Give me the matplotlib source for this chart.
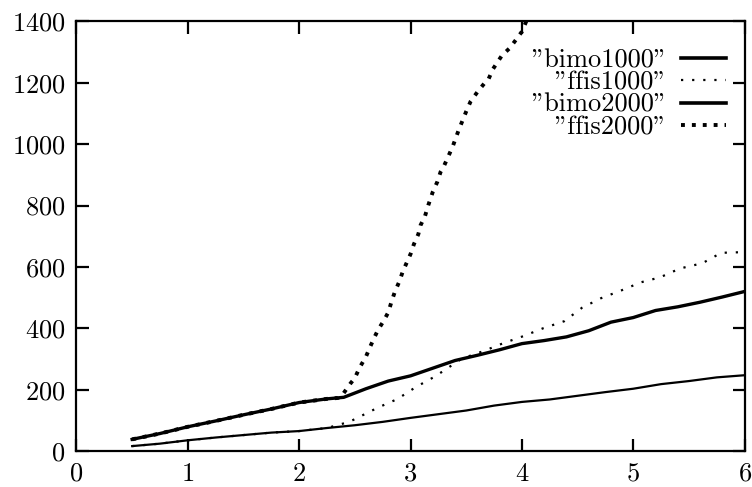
import matplotlib
matplotlib.use("Agg")
import matplotlib.pyplot as plt

plt.rcParams['font.family'] = 'cmr10'
plt.rcParams['axes.formatter.use_mathtext'] = True

# bimo1000 (lower solid line)
bimo1000_x = [0.5, 0.75, 1.0, 1.25, 1.5, 1.75, 2.0, 2.25, 2.5, 2.75, 3.0, 3.25,
              3.5, 3.75, 4.0, 4.25, 4.5, 4.75, 5.0, 5.25, 5.5, 5.75, 6.0]
bimo1000_y = [16, 24, 35, 44, 52, 60, 65, 75, 84, 95, 108, 120,
              132, 148, 160, 168, 180, 192, 203, 218, 228, 240, 247]

# bimo2000 (upper solid line)
bimo2000_x = [0.5, 0.75, 1.0, 1.25, 1.5, 1.75, 2.0, 2.25, 2.4, 2.6, 2.8, 3.0, 3.2,
              3.4, 3.6, 3.8, 4.0, 4.2, 4.4, 4.6, 4.8, 5.0, 5.2, 5.4, 5.6, 5.8, 6.0]
bimo2000_y = [38, 57, 79, 98, 118, 137, 158, 170, 175, 203, 228, 245, 270,
              295, 312, 330, 350, 360, 372, 392, 420, 435, 458, 470, 485, 502, 520]

# ffis1000: same as bimo1000 up to x=2.25, then diverges
ffis1000_x = [0.5, 0.75, 1.0, 1.25, 1.5, 1.75, 2.0, 2.25, 2.45, 2.71, 2.88, 3.05,
              3.22, 3.46, 3.65, 3.83, 4.01, 4.19, 4.38, 4.54, 4.71, 4.89, 5.07,
              5.24, 5.42, 5.62, 5.79, 5.97, 6.0]
ffis1000_y = [16, 24, 35, 44, 52, 60, 65, 75, 95, 142, 169, 209,
              243, 301, 325, 351, 374, 400, 423, 467, 498, 523, 550,
              566, 595, 612, 646, 648, 655]

# ffis2000: same as bimo2000 up to x=2.35, then shoots up
ffis2000_x = [0.5, 0.75, 1.0, 1.25, 1.5, 1.75, 2.0, 2.25, 2.35, 2.40, 2.46, 2.50,
              2.54, 2.60, 2.64, 2.68, 2.71, 2.76, 2.80, 2.83, 2.86, 2.90, 2.93,
              3.00, 3.03, 3.07, 3.09, 3.13, 3.16, 3.20, 3.24, 3.27, 3.30, 3.34,
              3.38, 3.43, 3.50, 3.54, 3.60, 3.66, 3.70, 3.74, 3.82, 3.89, 3.95,
              4.00, 4.05]
ffis2000_y = [38, 57, 79, 98, 118, 137, 158, 170, 173, 189, 220, 238,
              270, 308, 342, 374, 396, 425, 452, 488, 520, 553, 585,
              642, 674, 707, 736, 766, 802, 845, 877, 910, 929, 961,
              994, 1044, 1107, 1140, 1170, 1197, 1212, 1245, 1289, 1313, 1342,
              1367, 1410]

x_ticks = [0, 1, 2, 3, 4, 5, 6]
y_ticks = [0, 200, 400, 600, 800, 1000, 1200, 1400]

fig = plt.figure(figsize=(7.52, 4.87), dpi=100)
ax = fig.add_axes([0.1017, 0.0739, 0.8885, 0.882])

ax.plot(bimo1000_x, bimo1000_y, color='black', lw=1.6, label='"bimo1000"')
ax.plot(ffis1000_x, ffis1000_y, color='black', lw=1.6, linestyle=(0, (1, 4)),
        dash_capstyle='butt', label='"ffis1000"')
ax.plot(bimo2000_x, bimo2000_y, color='black', lw=2.4, label='"bimo2000"')
ax.plot(ffis2000_x, ffis2000_y, color='black', lw=2.8, linestyle=(0, (1, 1.8)),
        dash_capstyle='butt', label='"ffis2000"')

ax.set_xlim(0, 6)
ax.set_ylim(0, 1400)
ax.set_xticks(x_ticks)
ax.set_yticks(y_ticks)
ax.tick_params(direction='in', top=True, right=True, length=9, width=1.6,
               labelsize=19, pad=8)
for sp in ax.spines.values():
    sp.set_linewidth(1.6)

leg = ax.legend(loc='upper right', bbox_to_anchor=(0.988, 0.962), frameon=False,
                markerfirst=False, fontsize=19, handlelength=1.7,
                handletextpad=0.55, labelspacing=-0.05, borderaxespad=0)
legend_widths = [2.6, 1.6, 2.6, 2.8]
for h, w in zip(leg.get_lines(), legend_widths):
    h.set_linewidth(w)

fig.savefig('out.png', dpi=100)
